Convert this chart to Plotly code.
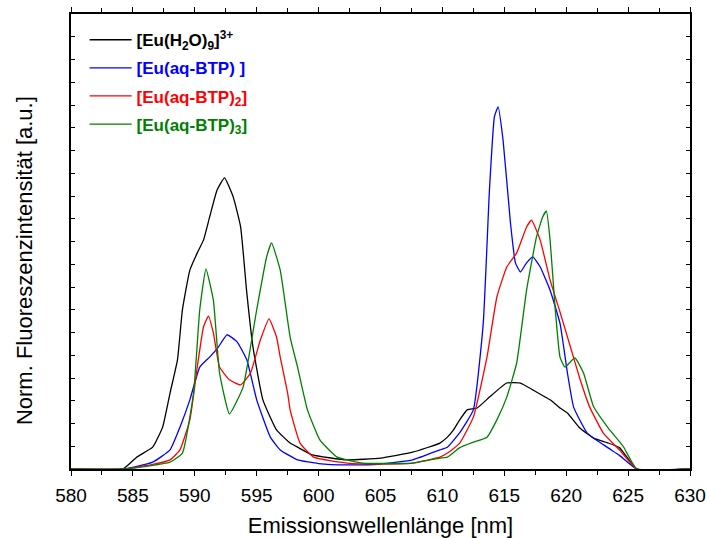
import plotly.graph_objects as go

# ---- data ----
x_h2o = [580.0, 584.2, 585.3, 586.6, 587.4, 588.0, 588.6, 589.0, 589.6, 590.2, 590.7, 591.2, 591.8,
         592.4, 593.1, 593.7, 594.2, 594.7, 595.5, 596.6, 597.7, 598.3, 599.5, 602.3, 605.0,
         607.6, 609.8, 610.4, 610.9, 611.4, 612.0, 612.8, 613.8, 615.2, 616.3, 617.3, 618.7,
         619.5, 620.1, 621.1, 622.2, 623.3, 624.3, 625.7, 630.0]
y_h2o = [0.0, 0.0, 0.026, 0.048, 0.092, 0.167, 0.24, 0.35, 0.437, 0.475, 0.503, 0.554, 0.613,
         0.64, 0.598, 0.532, 0.387, 0.268, 0.152, 0.086, 0.057, 0.048, 0.031, 0.020, 0.024,
         0.037, 0.057, 0.07, 0.086, 0.108, 0.13, 0.134, 0.158, 0.189, 0.189, 0.174, 0.152,
         0.134, 0.123, 0.09, 0.068, 0.058, 0.047, 0.0, 0.0]

x_btp1 = [580.0, 584.3, 586.6, 588.0, 588.8, 589.6, 590.4, 591.2, 591.9, 592.6, 593.4, 594.2,
          595.0, 596.1, 596.9, 598.3, 600.0, 602.3, 605.0, 607.6, 609.8, 610.4, 611.4, 612.5,
          613.3, 613.8, 614.2, 614.5, 614.9, 615.5, 615.9, 616.3, 616.8, 617.3, 617.9,
          618.7, 619.5, 620.1, 620.6, 621.7, 623.3, 624.3, 625.7, 630.0]
y_btp1 = [0.0, 0.0, 0.015, 0.042, 0.092, 0.152, 0.224, 0.246, 0.268, 0.295, 0.28, 0.24,
          0.152, 0.07, 0.042, 0.02, 0.012, 0.009, 0.011, 0.02, 0.042, 0.048, 0.08, 0.13,
          0.32, 0.613, 0.774, 0.796, 0.723, 0.54, 0.453, 0.433, 0.453, 0.466, 0.444,
          0.393, 0.32, 0.211, 0.136, 0.079, 0.048, 0.03, 0.0, 0.0]

x_btp2 = [580.0, 584.3, 586.6, 588.0, 588.8, 589.6, 590.2, 590.7, 591.1, 591.5, 592.0, 592.8,
          593.7, 594.5, 595.3, 596.0, 596.6, 596.9, 597.5, 597.7, 598.5, 599.6, 602.3,
          605.0, 607.6, 609.8, 610.4, 611.4, 612.5, 613.6, 614.4, 615.2, 616.0, 616.8,
          617.2, 617.9, 618.7, 619.5, 620.3, 621.1, 621.9, 623.0, 624.3, 625.7, 630.0]
y_btp2 = [0.0, 0.0, 0.01, 0.02, 0.042, 0.108, 0.224, 0.312, 0.336, 0.299, 0.224, 0.196,
          0.185, 0.211, 0.284, 0.33, 0.29, 0.246, 0.167, 0.13, 0.057, 0.026, 0.013,
          0.011, 0.013, 0.026, 0.035, 0.057, 0.114, 0.246, 0.378, 0.444, 0.475, 0.532,
          0.547, 0.503, 0.415, 0.345, 0.272, 0.199, 0.136, 0.079, 0.042, 0.0, 0.0]

x_btp3 = [580.0, 584.3, 588.0, 589.0, 589.9, 590.4, 590.9, 591.5, 592.0, 592.8, 593.9, 595.0,
          595.8, 596.2, 596.9, 597.7, 598.3, 599.1, 600.1, 601.5, 603.6, 607.6, 609.8,
          610.4, 611.4, 612.5, 613.6, 614.4, 615.2, 616.0, 616.8, 617.6, 618.1, 618.4,
          618.7, 619.1, 619.5, 619.9, 620.7, 621.4, 622.2, 623.4, 624.6, 625.7, 630.0]
y_btp3 = [0.0, 0.0, 0.015, 0.035, 0.167, 0.35, 0.44, 0.371, 0.211, 0.121, 0.18, 0.35,
          0.466, 0.497, 0.437, 0.29, 0.224, 0.13, 0.064, 0.026, 0.013, 0.013, 0.024,
          0.026, 0.047, 0.059, 0.07, 0.108, 0.158, 0.233, 0.393, 0.51, 0.554, 0.567,
          0.503, 0.356, 0.246, 0.224, 0.244, 0.211, 0.138, 0.09, 0.05, 0.0, 0.0]

names = ["<b>[Eu(H<sub>2</sub>O)<sub>9</sub>]<sup>3+</sup></b>",
         "<b><span style='color:#0000ff'>[Eu(aq-BTP) ]</span></b>",
         "<b><span style='color:#ff0000'>[Eu(aq-BTP)<sub>2</sub>]</span></b>",
         "<b><span style='color:#008000'>[Eu(aq-BTP)<sub>3</sub>]</span></b>"]
colors = ["#000000", "#0000ff", "#ff0000", "#008000"]
xs = [x_h2o, x_btp1, x_btp2, x_btp3]
ys = [y_h2o, y_btp1, y_btp2, y_btp3]

x_title = "Emissionswellenlänge [nm]"
y_title = "Norm. Fluoreszenzintensität [a.u.]"

fig = go.Figure()
for i, (xv, yv, nm, c) in enumerate(zip(xs, ys, names, colors)):
    fig.add_trace(go.Scatter(x=xv, y=yv, mode="lines", name=nm, legendgroup=f"g{i}",
                             line=dict(color=c, width=1.3, shape="spline", smoothing=0.4)))

fig.update_layout(
    width=706, height=538,
    margin=dict(l=71, r=16, t=14, b=69),
    paper_bgcolor="white", plot_bgcolor="white",
    font=dict(family="Liberation Sans, Arial, sans-serif", color="black"),
    showlegend=True,
    legend=dict(x=0.022, y=0.982, xanchor="left", yanchor="top", itemwidth=42,
                bgcolor="rgba(0,0,0,0)", font=dict(size=17, color="black"),
                tracegroupgap=3),
    annotations=[dict(text=y_title, xref="paper", yref="paper", x=-0.076, y=0.459,
                      textangle=-90, showarrow=False, font=dict(size=22),
                      xanchor="center", yanchor="middle")],
)
fig.update_xaxes(range=[580, 630], dtick=5, tick0=580, ticks="outside", ticklen=5,
                 tickwidth=1, tickcolor="black", showline=True, linecolor="black",
                 linewidth=1.5, mirror="allticks", showgrid=False, zeroline=False,
                 tickfont=dict(size=19), automargin=False, ticklabelstandoff=3,
                 minor=dict(dtick=2.5, ticks="outside", ticklen=4, tickcolor="black"),
                 title=dict(text=x_title, font=dict(size=22), standoff=13))
fig.update_yaxes(range=[0, 1], dtick=0.05, ticks="inside", ticklen=4, tickwidth=1,
                 tickcolor="black", showticklabels=False, showline=True, linecolor="black",
                 linewidth=1.5, mirror="allticks", showgrid=False, zeroline=False,
                 automargin=False)

fig.write_html("out.html", post_script="document.body.style.margin='0';",
               config={"displayModeBar": False})
